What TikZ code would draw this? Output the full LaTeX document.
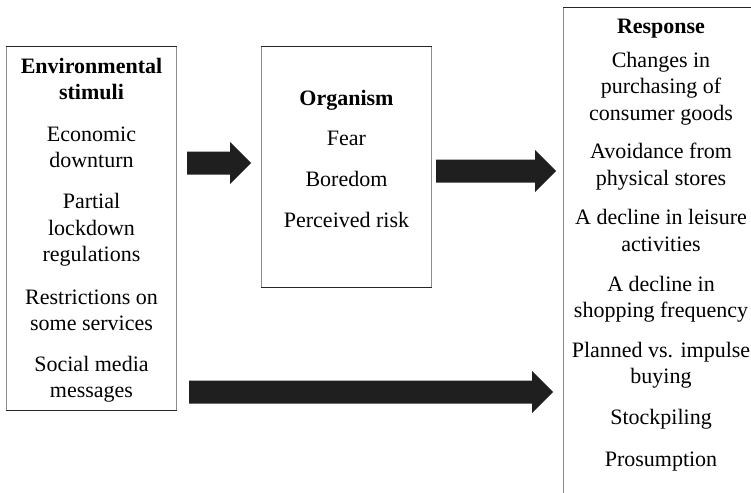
\documentclass[tikz,border=0pt]{standalone}
\usepackage{fontspec}
\setmainfont{Liberation Serif}
\usetikzlibrary{calc}
\newcommand\myblockarrow[2]{%
  \fill[blockarrow] ($(#1)+(0,-11.5)$) -- ($(#2)+(-21,-11.5)$) -- ($(#2)+(-21,-21)$) -- (#2)
    -- ($(#2)+(-21,21)$) -- ($(#2)+(-21,11.5)$) -- ($(#1)+(0,11.5)$) -- cycle;}
\begin{document}
\begin{tikzpicture}[x=1pt,y=-1pt,
  txt/.style={font=\fontsize{22}{26.5}\selectfont, align=center, inner sep=0pt},
  headtxt/.style={txt, font=\fontsize{22}{26.5}\selectfont\bfseries},
  boxarea/.style={draw=none, inner sep=0pt, minimum width=#1},
  hline/.style={line width=1.3pt, draw=black!85},
  vline/.style={line width=1pt, draw=black!45},
  blockarrow/.style={fill=black!88, draw=none}]
\useasboundingbox (0,0) rectangle (751,492);
\clip (0,0) rectangle (751,492);

% boxes
\node[boxarea=169pt, minimum height=363pt] (env) at (91.5,228.5) {};
\node[boxarea=169pt, minimum height=240pt] (org) at (346.5,167) {};
\node[boxarea=200pt, minimum height=500pt] (resp) at (664,258) {};

\foreach \b in {env,org}{
  \draw[vline] (\b.north west) -- (\b.south west);
  \draw[vline] (\b.north east) -- (\b.south east);
  \draw[hline] ([xshift=-0.5pt]\b.north west) -- ([xshift=0.5pt]\b.north east);
  \draw[hline] ([xshift=-0.5pt]\b.south west) -- ([xshift=0.5pt]\b.south east);
}
\draw[vline] (resp.north west) -- (resp.south west);
\draw[hline] ([xshift=-0.5pt]resp.north west) -- (resp.north east);

% environmental stimuli
\node[headtxt] (e0) at (91.5,81) {\strut Environmental\\stimuli\strut};
\node[txt] (e1) at (91.5,149) {\strut Economic\\downturn\strut};
\node[txt] (e2) at (91.5,230) {\strut Partial\\lockdown\\regulations\strut};
\node[txt] (e3) at (91.5,312) {\strut Restrictions on\\some services\strut};
\node[txt] (e4) at (91.5,379) {\strut Social media\\messages\strut};

% organism
\node[headtxt] (o0) at (346.5,100) {\strut Organism\strut};
\node[txt] (o1) at (346.5,140) {\strut Fear\strut};
\node[txt] (o2) at (346.5,181) {\strut Boredom\strut};
\node[txt] (o3) at (346.5,222) {\strut Perceived risk\strut};

% response
\node[headtxt] (r0) at (661,28) {\strut Response\strut};
\node[txt] (r1) at (661,88.5) {\strut Changes in\\purchasing of\\consumer goods\strut};
\node[txt] (r2) at (661,166.5) {\strut Avoidance from\\physical stores\strut};
\node[txt] (r3) at (661,232.5) {\strut A decline in leisure\\activities\strut};
\node[txt] (r4) at (661,299) {\strut A decline in\\shopping frequency\strut};
\node[txt] (r5) at (661,365) {\strut Planned vs. impulse\\buying\strut};
\node[txt] (r6) at (661,419) {\strut Stockpiling\strut};
\node[txt] (r7) at (661,461) {\strut Prosumption\strut};

% arrows
\coordinate (a1s) at (187,163);
\coordinate (a1e) at (251,163);
\coordinate (a2s) at (436,171);
\coordinate (a2e) at (556,171);
\coordinate (a3s) at (189,392);
\coordinate (a3e) at (553,392);
\myblockarrow{a1s}{a1e}
\myblockarrow{a2s}{a2e}
\myblockarrow{a3s}{a3e}
\end{tikzpicture}
\end{document}
